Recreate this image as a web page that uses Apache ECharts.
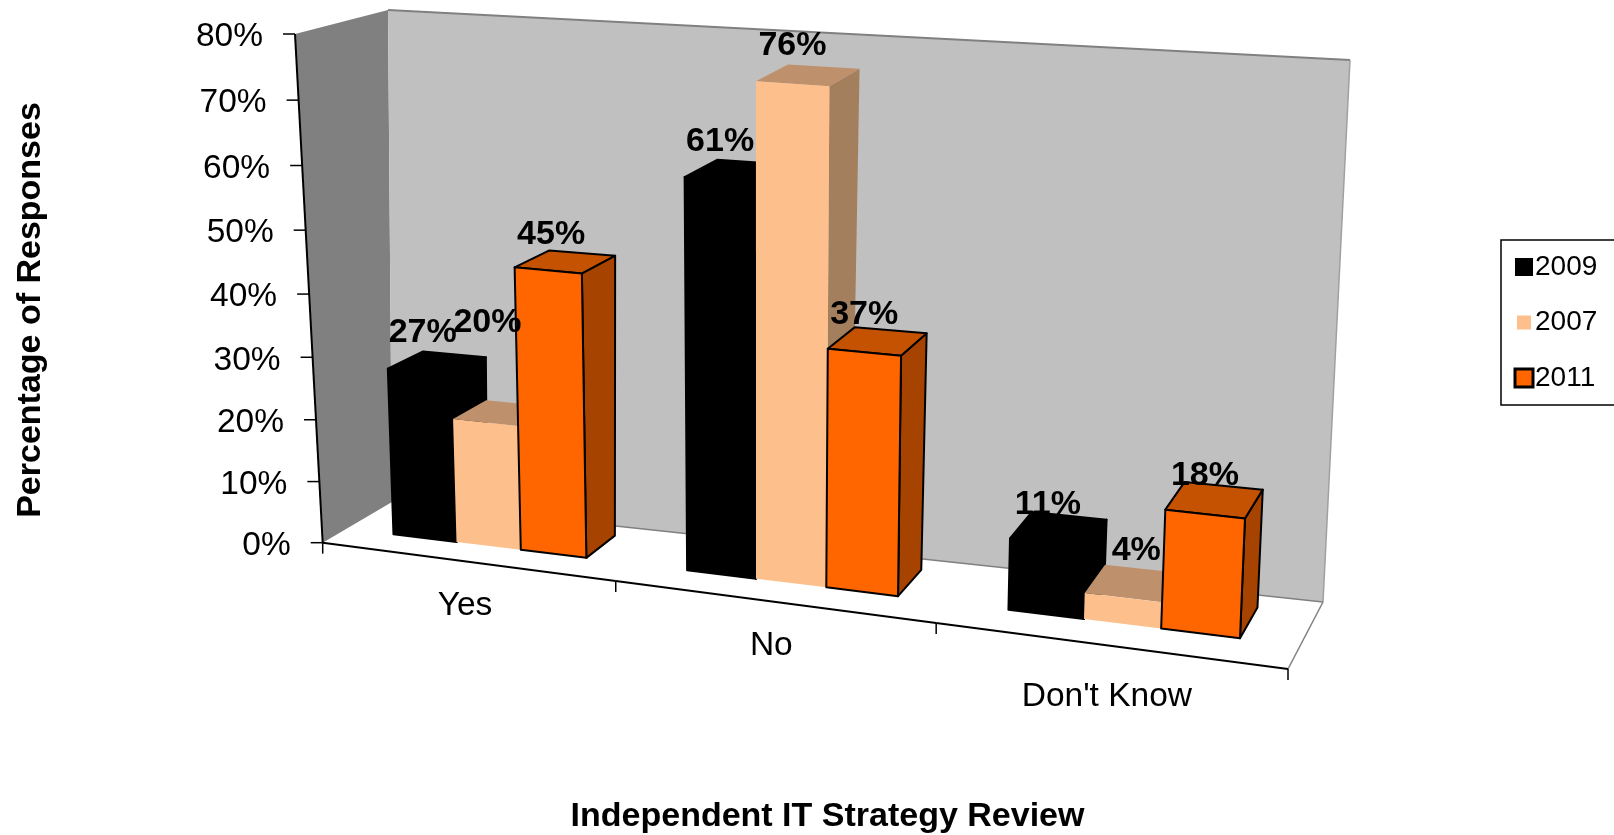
<!DOCTYPE html>
<html>
<head>
<meta charset="utf-8">
<title>Independent IT Strategy Review</title>
<script src="https://cdn.jsdelivr.net/npm/echarts@6/dist/echarts.min.js"></script>
<style>
html, body { margin: 0; padding: 0; background: #fff; }
#main { width: 1614px; height: 835px; }
</style>
</head>
<body>
<div id="main"></div>
<script>
var categories = ['Yes', 'No', "Don't Know"];
var years = ['2009', '2007', '2011'];
var values2009 = [27, 61, 11];
var values2007 = [20, 76, 4];
var values2011 = [45, 37, 18];
var yTicks = [0, 10, 20, 30, 40, 50, 60, 70, 80];

var FONT = '"Liberation Sans", Arial, sans-serif';

// face colours per year: front, top, side, outline
var faces2009 = ['#000000', '#000000', '#000000', '#000000'];
var faces2007 = ['#FDC08D', '#BE916C', '#A37F5E', null];
var faces2011 = ['#FF6600', '#C45200', '#A64300', '#000000'];

// corners of the 3D box on the page, [u][v][w]: u along categories, v up, w into the picture
var box = {
    f00: [322.7, 542.7], f01: [295, 34], f10: [1288, 669], f11: [1313, 108],
    b00: [392, 502], b01: [388, 10], b10: [1323, 602], b11: [1350, 60]
};
var WARP_U = 1.147, WARP_V = 1.046;
var BAR_FRONT = 0.35, BAR_BACK = 0.82;

// labels that were dragged off their bar in the original: [dx, dy] by year index, category index
var labelNudge = { '1:0': [2, -62], '1:2': [13, -9], '0:0': [3, -1], '2:0': [3, 2] };

function mix(a, b, t) {
    return [a[0] + (b[0] - a[0]) * t, a[1] + (b[1] - a[1]) * t];
}
function warp(u, v, w) {
    var su = u / (u + WARP_U * (1 - u));
    var tv = v / (v + WARP_V * (1 - v));
    var front = mix(mix(box.f00, box.f10, su), mix(box.f01, box.f11, su), tv);
    var back = mix(mix(box.b00, box.b10, su), mix(box.b01, box.b11, su), tv);
    return mix(front, back, w);
}
// grid pixel (from the axes) + depth -> page pixel
function project(sys, pt, w) {
    return warp((pt[0] - sys.x) / sys.width, (sys.y + sys.height - pt[1]) / sys.height, w);
}
function poly(points, fill, stroke) {
    return {
        type: 'polygon',
        shape: { points: points },
        style: { fill: fill, stroke: stroke || null, lineWidth: stroke ? 2 : 0, lineJoin: 'round' }
    };
}
function segment(a, b, color, width) {
    return {
        type: 'line',
        shape: { x1: a[0], y1: a[1], x2: b[0], y2: b[1] },
        style: { stroke: color, lineWidth: width }
    };
}

function barGeometry(params, api, index) {
    var cat = api.value(0);
    var band = api.size([1, 0])[0];
    var barW = band / 4.5;
    var top = api.coord([cat, api.value(1)]);
    var base = api.coord([cat, 0]);
    var x0 = top[0] - 1.5 * barW + index * barW;
    return { x0: x0, x1: x0 + barW, top: top[1], base: base[1], sys: params.coordSys };
}

function barRenderer(index, colors) {
    return function (params, api) {
        var g = barGeometry(params, api, index);
        var s = g.sys;
        var fl = project(s, [g.x0, g.top], BAR_FRONT), fr = project(s, [g.x1, g.top], BAR_FRONT);
        var bl = project(s, [g.x0, g.top], BAR_BACK), br = project(s, [g.x1, g.top], BAR_BACK);
        var flb = project(s, [g.x0, g.base], BAR_FRONT), frb = project(s, [g.x1, g.base], BAR_FRONT);
        var brb = project(s, [g.x1, g.base], BAR_BACK);
        return {
            type: 'group',
            children: [
                poly([fr, br, brb, frb], colors[2], colors[3]),
                poly([fl, bl, br, fr], colors[1], colors[3]),
                poly([fl, fr, frb, flb], colors[0], colors[3])
            ]
        };
    };
}

function labelRenderer(index) {
    return function (params, api) {
        var g = barGeometry(params, api, index);
        var p = project(g.sys, [(g.x0 + g.x1) / 2, g.top], BAR_FRONT);
        var nudge = labelNudge[index + ':' + api.value(0)] || [0, 0];
        return {
            type: 'text',
            x: p[0] + nudge[0],
            y: p[1] - 38 + nudge[1],
            style: {
                text: api.value(1) + '%',
                font: 'bold 34px ' + FONT,
                fill: '#000',
                align: 'center',
                verticalAlign: 'middle'
            }
        };
    };
}

function wallsRenderer(params, api) {
    var c = box;
    return {
        type: 'group',
        children: [
            poly([c.f00, c.f10, c.b10, c.b00], '#FFFFFF'),
            poly([c.f00, c.f01, c.b01, c.b00], '#808080'),
            poly([c.b00, c.b01, c.b11, c.b10], '#C0C0C0'),
            segment(c.b01, c.b11, '#808080', 2),
            segment(c.b11, c.b10, '#A0A0A0', 1.5),
            segment(c.b00, c.b10, '#808080', 1.5),
            segment(c.f10, c.b10, '#808080', 1.5)
        ]
    };
}

function yAxisRenderer(params, api) {
    var s = params.coordSys;
    var px = api.coord([0, api.value(0)]);
    var p = project(s, [s.x, px[1]], 0);
    return {
        type: 'group',
        children: [
            segment(p, [p[0] - 12, p[1]], '#000', 1.5),
            {
                type: 'text',
                x: p[0] - 32,
                y: p[1] + 3,
                style: {
                    text: api.value(0) + '%',
                    font: '33.5px ' + FONT,
                    fill: '#000',
                    align: 'right',
                    verticalAlign: 'middle'
                }
            }
        ]
    };
}

function xAxisRenderer(params, api) {
    var s = params.coordSys;
    var i = api.value(0);
    var mid = api.coord([i, 0]);
    var band = api.size([1, 0])[0];
    var bottom = s.y + s.height;
    var tickL = project(s, [mid[0] - band / 2, bottom], 0);
    var tickR = project(s, [mid[0] + band / 2, bottom], 0);
    var center = project(s, [mid[0], bottom], 0);
    var kids = [
        segment(tickL, tickR, '#000', 2),
        segment(tickR, [tickR[0], tickR[1] + 11], '#000', 1.5),
        {
            type: 'text',
            x: center[0] - 1,
            y: center[1] + 44 + (i === 2 ? 7 : 0),
            style: {
                text: categories[i],
                font: '33.5px ' + FONT,
                fill: '#000',
                align: 'center',
                verticalAlign: 'middle'
            }
        }
    ];
    if (i === 0) {
        kids.push(segment(tickL, [tickL[0], tickL[1] + 11], '#000', 1.5));
        kids.push(segment(warp(0, 0, 0), warp(0, 1, 0), '#000', 2));
    }
    return { type: 'group', children: kids };
}

function rows(values) {
    return values.map(function (v, i) { return [i, v]; });
}
function barSeries(name, values, index, colors) {
    return {
        name: name,
        type: 'custom',
        z: 4,
        silent: true,
        itemStyle: { color: colors[0], borderColor: colors[3] || colors[0] },
        renderItem: barRenderer(index, colors),
        encode: { x: 0, y: 1 },
        data: rows(values)
    };
}
function labelSeries(values, index) {
    return {
        type: 'custom',
        z: 6,
        silent: true,
        renderItem: labelRenderer(index),
        encode: { x: 0, y: 1 },
        data: rows(values)
    };
}

var myChart = echarts.init(document.getElementById('main'));
var option = {
    animation: false,
    backgroundColor: '#ffffff',
    grid: { left: 295, top: 34, width: 1065, height: 552, outerBoundsMode: 'none' },
    xAxis: {
        type: 'category',
        data: categories,
        name: 'Independent IT Strategy Review',
        nameLocation: 'middle',
        nameGap: 213.5,
        nameTextStyle: { fontFamily: FONT, fontWeight: 'bold', fontSize: 34, color: '#000' },
        axisLine: { show: false },
        axisTick: { show: false },
        axisLabel: { show: false }
    },
    yAxis: {
        type: 'value',
        min: 0,
        max: 80,
        interval: 10,
        name: 'Percentage of Responses',
        nameLocation: 'middle',
        nameGap: 247.5,
        nameTextStyle: { fontFamily: FONT, fontWeight: 'bold', fontSize: 34, color: '#000' },
        axisLine: { show: false },
        axisTick: { show: false },
        axisLabel: { show: false },
        splitLine: { show: false }
    },
    legend: {
        orient: 'vertical',
        left: 1501,
        top: 240,
        padding: [13, 30, 13, 12],
        itemGap: 27.5,
        itemWidth: 18,
        itemHeight: 18,
        itemStyle: { borderWidth: 0 },
        icon: 'rect',
        backgroundColor: '#fff',
        borderColor: '#000',
        borderWidth: 1.5,
        textStyle: { fontFamily: FONT, fontSize: 28, color: '#000', padding: [0, 0, 0, -3] },
        data: [
            { name: years[0], itemStyle: { color: faces2009[0] } },
            { name: years[1], itemStyle: { color: faces2007[0], borderColor: '#fff', borderWidth: 4 } },
            { name: years[2], itemStyle: { color: faces2011[0], borderColor: '#000', borderWidth: 3 } }
        ]
    },
    series: [
        { type: 'custom', z: 1, silent: true, renderItem: wallsRenderer, encode: { x: 0, y: 1 }, data: [[0, 0]] },
        { type: 'custom', z: 2, silent: true, renderItem: yAxisRenderer, encode: { y: 0 }, data: yTicks.map(function (t) { return [t]; }) },
        { type: 'custom', z: 2, silent: true, renderItem: xAxisRenderer, encode: { x: 0 }, data: categories.map(function (c, i) { return [i]; }) },
        barSeries(years[0], values2009, 0, faces2009),
        barSeries(years[1], values2007, 1, faces2007),
        barSeries(years[2], values2011, 2, faces2011),
        labelSeries(values2009, 0),
        labelSeries(values2007, 1),
        labelSeries(values2011, 2)
    ]
};
if (option && typeof option === 'object') {
    myChart.setOption(option, true);
}
</script>
</body>
</html>
